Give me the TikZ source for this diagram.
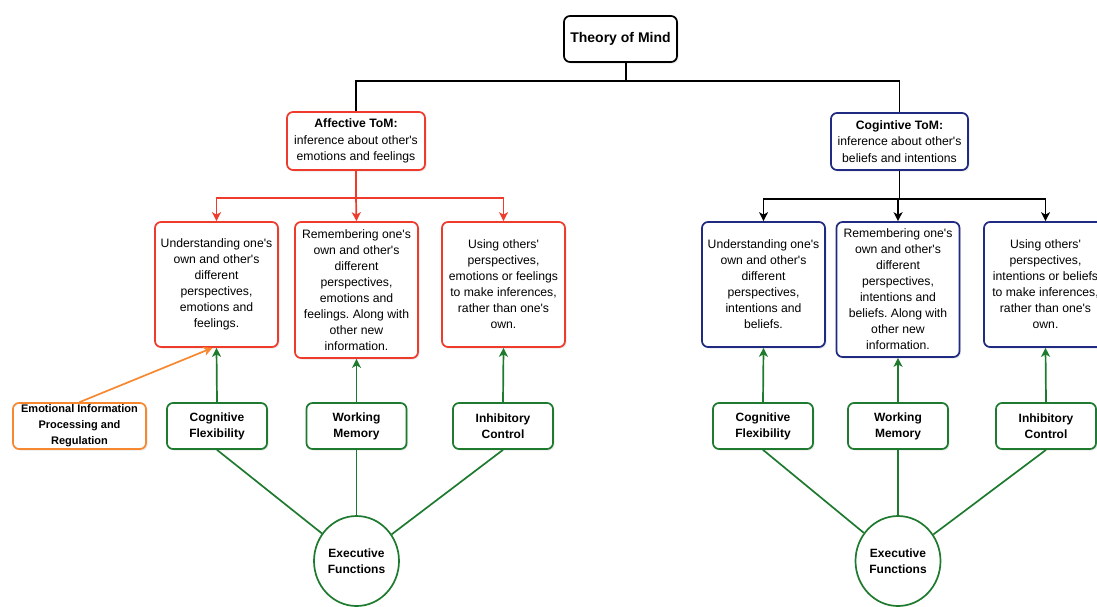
\documentclass[tikz,border=0pt]{standalone}
\usepackage{fontspec}
\setmainfont{Liberation Sans}
\usetikzlibrary{arrows.meta,calc,shadows,shapes.geometric}
\definecolor{tomred}{HTML}{EE3B2B}
\definecolor{tomblue}{HTML}{1F2A80}
\definecolor{tomgreen}{HTML}{1E7A2E}
\definecolor{tomorange}{HTML}{F7882F}
\newcommand{\ap}{\textquotesingle}
\frenchspacing
\begin{document}
\begin{tikzpicture}[x=1pt,y=-1pt,
  base/.style={draw, rounded corners=6pt, line width=1.7pt, align=center, inner sep=0pt, fill=white,
    drop shadow={opacity=0.18, shadow xshift=1.5pt, shadow yshift=-1.5pt}},
  txt/.style={font=\fontsize{12.2}{16}\selectfont},
  headbox/.style={base, minimum width=138pt, minimum height=58pt, font=\fontsize{12.2}{16.5}\selectfont},
  contbox/.style={base, txt, minimum width=123pt},
  redbox/.style={contbox, draw=tomred},
  bluebox/.style={contbox, draw=tomblue},
  efbox/.style={base, draw=tomgreen, minimum width=100pt, minimum height=46pt, font=\bfseries\fontsize{12}{16}\selectfont},
  efcirc/.style={ellipse, draw=tomgreen, line width=1.7pt, fill=white, minimum width=85pt, minimum height=90pt, inner sep=0pt, align=center, font=\bfseries\fontsize{12}{16}\selectfont},
  conn/.style={line width=1.7pt},
  tip/.style={-{Stealth[length=9pt,width=9pt,inset=2.5pt]}}
]
\useasboundingbox (0,0) rectangle (1097,606);

% top
\node[base, draw=black, minimum width=113pt, minimum height=46pt, font=\bfseries\fontsize{14}{16}\selectfont] (tom) at (620.5,39) {Theory of Mind};
\node[headbox, draw=tomred] (aff) at (356,141) {\textbf{Affective ToM:}\\inference about other\ap s\\emotions and feelings};
\node[headbox, draw=tomblue, minimum width=137pt, minimum height=57pt] (cog) at (899.5,141.5) {\textbf{Cogintive ToM:}\\inference about other\ap s\\beliefs and intentions};

% content boxes left
\node[redbox, minimum height=125pt] (u1) at (216.5,284.5) {Understanding one\ap s\\own and other\ap s\\different\\perspectives,\\emotions and\\feelings.};
\node[redbox, minimum height=136pt] (r1) at (356.5,290) {Remembering one\ap s\\own and other\ap s\\different\\perspectives,\\emotions and\\feelings. Along with\\other new\\information.};
\node[redbox, minimum height=125pt] (s1) at (503.5,284.5) {Using others\ap\\perspectives,\\emotions or feelings\\to make inferences,\\rather than one\ap s\\own.};

% content boxes right
\node[bluebox, minimum height=125pt] (u2) at (763.5,284.5) {Understanding one\ap s\\own and other\ap s\\different\\perspectives,\\intentions and\\beliefs.};
\node[bluebox, minimum height=135pt] (r2) at (898,289.5) {Remembering one\ap s\\own and other\ap s\\different\\perspectives,\\intentions and\\beliefs. Along with\\other new\\information.};
\node[bluebox, minimum height=125pt] (s2) at (1045.5,284.5) {Using others\ap\\perspectives,\\intentions or beliefs\\to make inferences,\\rather than one\ap s\\own.};

% executive function boxes
\node[efbox] (cf1) at (217,426) {Cognitive\\Flexibility};
\node[efbox] (wm1) at (356.5,426) {Working\\Memory};
\node[efbox] (ic1) at (503,426) {Inhibitory\\Control};
\node[efbox] (cf2) at (763,426) {Cognitive\\Flexibility};
\node[efbox] (wm2) at (898,426) {Working\\Memory};
\node[efbox] (ic2) at (1046,426) {Inhibitory\\Control};
\node[base, draw=tomorange, minimum width=133pt, minimum height=46pt, font=\bfseries\fontsize{11}{16}\selectfont] (emo) at (79.5,426) {Emotional Information\\Processing and\\Regulation};

% circles
\node[efcirc] (ef1) at (356.5,561) {Executive\\Functions};
\node[efcirc] (ef2) at (898,561) {Executive\\Functions};

% top connectors
\coordinate (bar) at (626,81);
\draw[conn] ([xshift=5.5pt]tom.south) -- (bar);
\draw[conn] (aff.north) |- (bar) -| (cog.north);

% red connectors
\coordinate (rbar) at (356,198);
\draw[conn, tomred] (aff.south) -- (rbar);
\draw[conn, tomred, tip] (rbar) -| (u1.north);
\draw[conn, tomred, tip] (rbar) -- (r1.north);
\draw[conn, tomred, tip] (rbar) -| (s1.north);

% black connectors right
\coordinate (bbar) at (899.5,199);
\draw[conn] (cog.south) -- (bbar);
\draw[conn, tip] (bbar) -| (u2.north);
\draw[conn, tip] (bbar) -| (r2.north);
\draw[conn, tip] (bbar) -| (s2.north);

% green arrows up
\foreach \a/\b in {cf1/u1, wm1/r1, ic1/s1, cf2/u2, wm2/r2, ic2/s2}
  \draw[conn, tomgreen, tip] (\a.north) -- (\b.south);

% orange arrow
\draw[conn, tomorange, tip] (emo.north) -- ([xshift=-4pt]u1.south);

% green lines to executive functions
\foreach \a in {cf1, wm1, ic1} \draw[conn, tomgreen] (\a.south) -- (ef1);
\foreach \a in {cf2, wm2, ic2} \draw[conn, tomgreen] (\a.south) -- (ef2);
\end{tikzpicture}
\end{document}
